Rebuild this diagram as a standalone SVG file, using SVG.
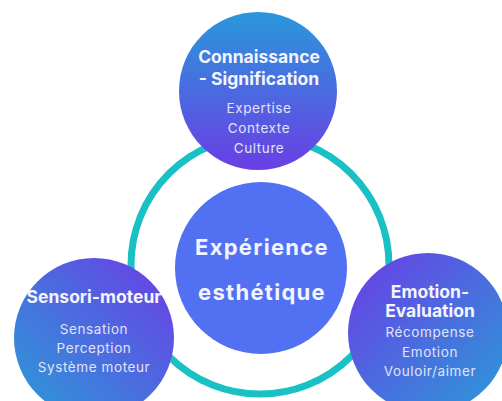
<svg xmlns="http://www.w3.org/2000/svg" width="502" height="401" viewBox="0 0 502 401">
<defs>
<linearGradient id="gTop" x1="0" y1="0" x2="0" y2="1">
<stop offset="0" stop-color="#2a97dc"/>
<stop offset="1" stop-color="#6a3ee4"/>
</linearGradient>
<linearGradient id="gLeft" x1="1" y1="0" x2="0" y2="1">
<stop offset="0" stop-color="#6b3ce6"/>
<stop offset="1" stop-color="#2a9cd8"/>
</linearGradient>
<linearGradient id="gRight" x1="0" y1="0" x2="1" y2="1">
<stop offset="0" stop-color="#6b3ce6"/>
<stop offset="1" stop-color="#2a9cd8"/>
</linearGradient>
</defs>
<style>
.t{font-family:Inter,"Liberation Sans",sans-serif;font-weight:700;fill:#f4f4ff;text-anchor:middle;font-size:17.5px}
.s{font-family:Inter,"Liberation Sans",sans-serif;font-weight:400;fill:#e2e2f8;text-anchor:middle;font-size:13.5px;letter-spacing:0.6px}
.c{font-family:Inter,"Liberation Sans",sans-serif;font-weight:700;fill:#f2f4ff;text-anchor:middle;font-size:22px;letter-spacing:1.3px}
</style>
<rect width="502" height="401" fill="#ffffff"/>
<g id="connectors">
<circle cx="260" cy="265" r="129" fill="none" stroke="#19c1c4" stroke-width="7"/>
</g>
<g id="center">
<circle cx="261" cy="268" r="86" fill="#5270f2"/>
<text class="c" x="262" y="255">Expérience</text>
<text class="c" x="262" y="300">esthétique</text>
</g>
<g id="top">
<circle cx="258" cy="91" r="79" fill="url(#gTop)"/>
<text class="t" x="259" y="63">Connaissance</text>
<text class="t" x="259" y="85">- Signification</text>
<text class="s" x="259" y="113">Expertise</text>
<text class="s" x="259" y="133">Contexte</text>
<text class="s" x="259" y="153">Culture</text>
</g>
<g id="left">
<circle cx="94" cy="338" r="80" fill="url(#gLeft)"/>
<text class="t" x="94" y="303">Sensori-moteur</text>
<text class="s" x="94" y="334">Sensation</text>
<text class="s" x="94" y="353">Perception</text>
<text class="s" x="94" y="372">Système moteur</text>
</g>
<g id="right">
<circle cx="428" cy="333" r="80" fill="url(#gRight)"/>
<text class="t" x="430" y="298">Emotion-</text>
<text class="t" x="430" y="317">Evaluation</text>
<text class="s" x="430" y="337">Récompense</text>
<text class="s" x="430" y="357">Emotion</text>
<text class="s" x="430" y="376">Vouloir/aimer</text>
</g>
</svg>
